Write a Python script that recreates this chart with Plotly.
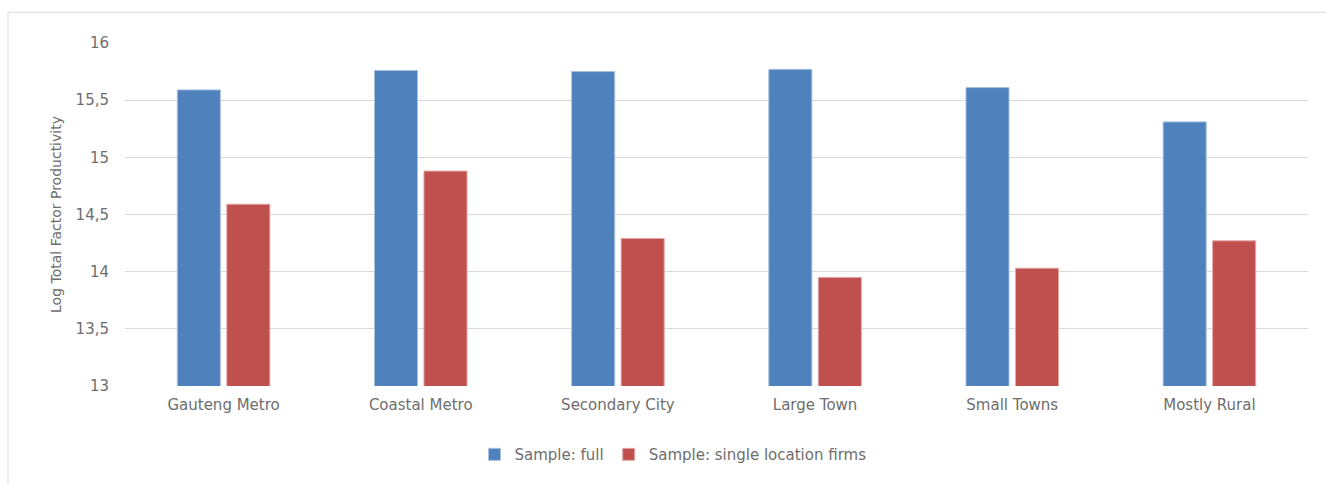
import plotly.graph_objects as go

categories = ["Gauteng Metro", "Coastal Metro", "Secondary City", "Large Town", "Small Towns", "Mostly Rural"]
full_sample = [15.59, 15.76, 15.75, 15.77, 15.61, 15.31]
single_location = [14.59, 14.88, 14.29, 13.95, 14.03, 14.27]
series_names = ["Sample: full", "Sample: single location firms"]
y_ticks = [13, 13.5, 14, 14.5, 15, 15.5, 16]
y_ticklabels = ["13", "13,5", "14", "14,5", "15", "15,5", "16"]

fig = go.Figure()
fig.add_trace(go.Bar(x=categories, y=full_sample, name=series_names[0],
                     marker=dict(color="#4F81BD", line=dict(color="#A9C1E0", width=1))))
fig.add_trace(go.Bar(x=categories, y=single_location, name=series_names[1],
                     marker=dict(color="#C0504D", line=dict(color="#E0A9A8", width=1))))

W, H = 1326, 483
L, R, T, B = 125, 18, 43, 95
pw, ph = W - L - R, H - T - B

def px_to_paper_x(px):
    return (px - L) / pw

def px_to_paper_y(py):
    return (H - B - py) / ph

FONT = "DejaVu Sans, Verdana, sans-serif"
GREY = "#6E6E6E"

fig.update_layout(
    width=W, height=H,
    margin=dict(l=L, r=R, t=T, b=B),
    paper_bgcolor="white", plot_bgcolor="white",
    font=dict(family=FONT, color=GREY, size=15),
    barmode="group", bargap=0.498, bargroupgap=0.13,
    showlegend=True,
    legend=dict(orientation="h", x=px_to_paper_x(673), xanchor="center", y=px_to_paper_y(457), yanchor="middle",
                font=dict(size=15, color=GREY), itemwidth=30),
    xaxis=dict(showgrid=False, showline=False, ticks="", ticklabelstandoff=8,
               tickfont=dict(size=15, color=GREY)),
    yaxis=dict(range=[13, 16], tickvals=y_ticks, ticktext=y_ticklabels,
               showgrid=True, gridcolor="#D9D9D9", gridwidth=1, zeroline=False, showline=False,
               ticks="", ticklabelstandoff=15, tickfont=dict(size=15, color=GREY),
               title=dict(text="Log Total Factor Productivity", font=dict(size=14, color=GREY), standoff=10)),
    shapes=[
        dict(type="line", xref="paper", yref="paper", x0=px_to_paper_x(8), x1=px_to_paper_x(8),
             y0=px_to_paper_y(12), y1=px_to_paper_y(500), line=dict(color="#D9D9D9", width=1)),
        dict(type="line", xref="paper", yref="paper", x0=px_to_paper_x(8), x1=px_to_paper_x(1340),
             y0=px_to_paper_y(12), y1=px_to_paper_y(12), line=dict(color="#D9D9D9", width=1)),
    ],
)

fig.write_html("out.html")
